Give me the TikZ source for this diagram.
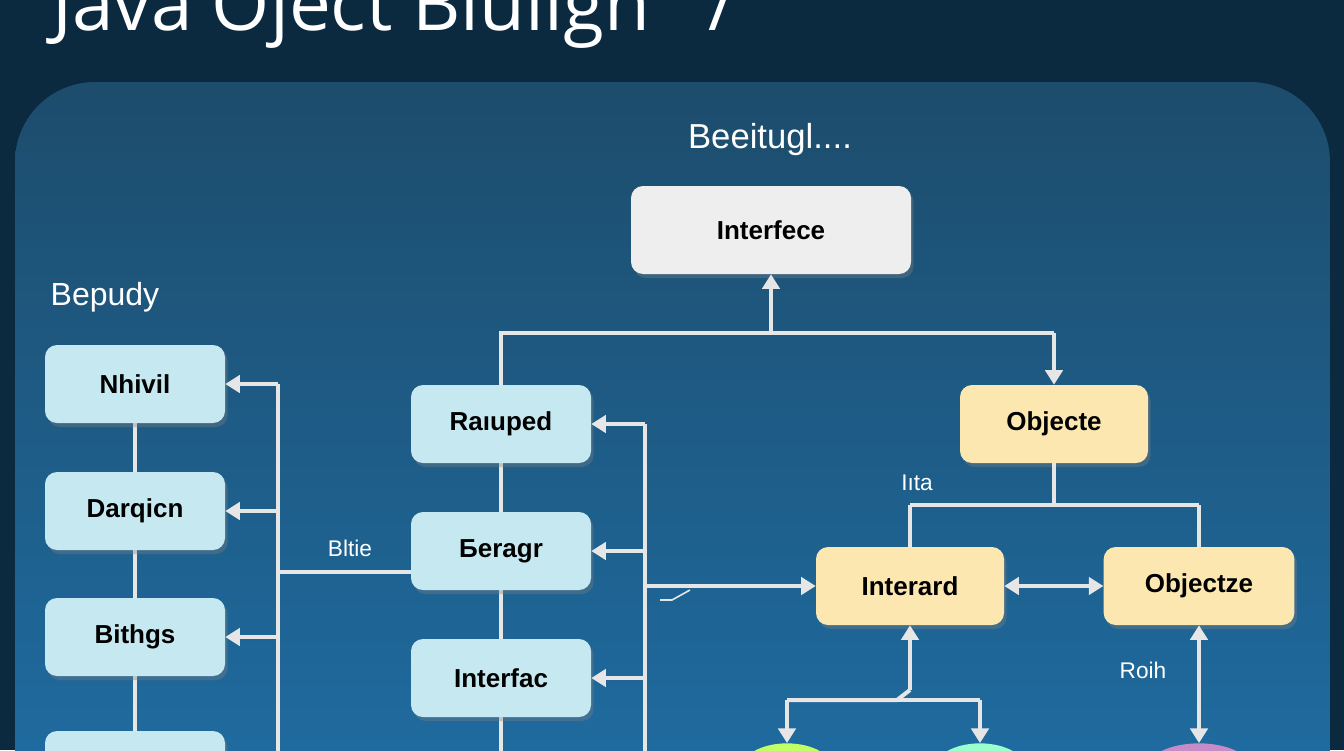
\documentclass[tikz,border=0pt]{standalone}
\usepackage{fontspec}
\setmainfont{Liberation Sans}
\newfontfamily\titlefont{Open Sans}
\usetikzlibrary{arrows.meta,shadows,shapes.geometric}
\definecolor{bgdark}{HTML}{0B2A40}
\definecolor{paneltop}{HTML}{1D4C6C}
\definecolor{panelbot}{HTML}{1F6FA6}
\definecolor{lblue}{HTML}{C6E9F1}
\definecolor{lyell}{HTML}{FBE7AF}
\definecolor{lgray}{HTML}{EEEEEE}
\definecolor{wire}{HTML}{E6E6E6}
\begin{document}
\begin{tikzpicture}[x=0.75pt,y=-0.75pt,
  box/.style={rounded corners=9pt,draw=none,text=black,font=\bfseries\fontsize{19.5}{22}\selectfont,
    minimum height=58.5pt,drop shadow={opacity=0.35,shadow xshift=2pt,shadow yshift=-3pt}},
  bbox/.style={box,fill=lblue,minimum width=135pt},
  ybox/.style={box,fill=lyell,minimum width=141pt},
  ln/.style={draw=wire,line width=3pt},
  ar/.style={ln,-{Triangle[length=11pt,width=13pt]}},
  dar/.style={ln,{Triangle[length=11pt,width=13pt]}-{Triangle[length=11pt,width=13pt]}},
  lbl/.style={text=white,font=\fontsize{17}{19}\selectfont}]
\useasboundingbox (0,0) rectangle (1344,750);
\clip (0,0) rectangle (1344,750);
\fill[bgdark] (0,0) rectangle (1344,750);
\shade[top color=paneltop,bottom color=panelbot,rounded corners=60pt] (15,82) rectangle (1330,850);
\node[anchor=base west,text=white,font=\titlefont\fontsize{56}{60}\selectfont,inner sep=0pt] (title) at (52,30) {Java Oject Biuligh\ \ \ /};
\node[text=white,font=\fontsize{26}{28}\selectfont] (top) at (770,140) {Beeitugl....};
\node[text=white,font=\fontsize{24}{26}\selectfont] (bep) at (105,297) {Bepudy};
\node[lbl] (blt) at (350,548) {Bltie};
\node[lbl] (ita) at (917,483) {Iıta};
\node[lbl] (roih) at (1143,670) {Roih};
% nodes
\node[box,fill=lgray,minimum width=210pt,minimum height=66pt] (ife) at (771,230) {Interfece};
\coordinate (lc4) at (135,765);
\draw[ln] (135,384) -- (lc4);
\node[bbox] (n1) at (135,384) {Nhivil};
\node[bbox] (n2) at (135,511) {Darqicn};
\node[bbox] (n3) at (135,637) {Bithgs};
\node[bbox] (n4) at (135,770) {};
\coordinate (mc4) at (501,760);
\draw[ln] (501,424) -- (mc4);
\node[bbox] (m1) at (501,424) {Raıuped};
\node[bbox] (m2) at (501,551) {Бeragr};
\node[bbox] (m3) at (501,678) {Interfac};
\node[ybox] (obj) at (1054,424) {Objecte};
\node[ybox] (ird) at (910,586) {Interard};
\node[ybox,minimum width=143pt] (obz) at (1199,586) {Objectze};
% ellipses
\node[ellipse,fill=green!40!yellow!60,minimum width=70pt,minimum height=40pt] (e1) at (787,770) {};
\node[ellipse,fill=green!50!cyan!40,minimum width=70pt,minimum height=40pt] (e2) at (980,770) {};
\node[ellipse,fill=violet!45,minimum width=80pt,minimum height=40pt] (e3) at (1199,770) {};
% left bracket
\coordinate (lb) at (278,760);
\draw[ln] (278,384) -- (lb);
\draw[ar] (278,384) -- (n1.east);
\draw[ar] (278,511) -- (n2.east);
\draw[ar] (278,637) -- (n3.east);
\draw[ln] (m2.west|-0,572) -- (278,572);
% middle bracket
\draw[ln] (645,424) -- (645,760);
\draw[ar] (645,424) -- (m1.east);
\draw[ar] (645,551) -- (m2.east);
\draw[ar] (645,678) -- (m3.east);
\draw[ar] (645,586) -- (ird.west);
\draw[draw=wire,line width=1.2pt] (660,600) -- (672,600) -- (690,590);
% interface tree
\draw[ln] (m1.north) -- (501,333) -- (1054,333);
\draw[ar] (1054,333) -- (obj.north);
\draw[ar] (771,333) -- (ife.south);
% objecte tree
\draw[ln] (obj.south) -- (1054,505);
\draw[ln] (910,505) -- (1199,505);
\draw[ln] (910,505) -- (ird.north);
\draw[ln] (1199,505) -- (obz.north);
\draw[dar] (ird.east) -- (obz.west);
\draw[dar] (obz.south) -- (e3.north);
% interard down tree
\draw[ar] (910,690) -- (ird.south);
\draw[ln] (910,690) -- (897,700) -- (787,700);
\draw[ln] (897,700) -- (980,700);
\draw[ar] (787,700) -- (e1.north);
\draw[ar] (980,700) -- (e2.north);
\end{tikzpicture}
\end{document}
